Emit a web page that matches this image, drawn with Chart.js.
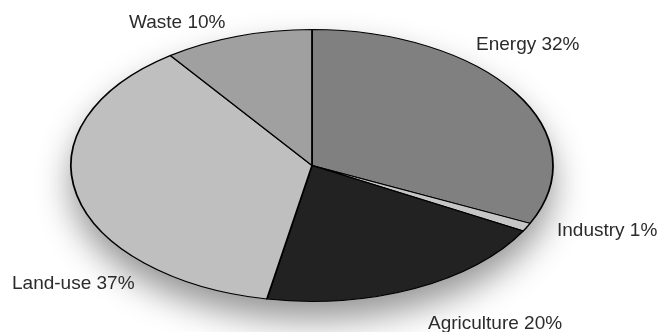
<!DOCTYPE html>
<html>
<head>
<meta charset="utf-8">
<title>Emissions by sector</title>
<script src="https://cdn.jsdelivr.net/npm/chart.js@4.4.1/dist/chart.umd.min.js"></script>
<style>
  html, body { margin: 0; padding: 0; background: #fff; }
  #wrap { width: 657px; height: 332px; }
</style>
</head>
<body>
<div id="wrap"><canvas id="chart" width="657" height="332"></canvas></div>
<script>
// data
const sectors = ["Energy", "Industry", "Agriculture", "Land-use", "Waste"];
const shares = [32, 1, 20, 37, 10];
const sliceColors = ["#808080", "#c6c6c6", "#222222", "#bfbfbf", "#a0a0a0"];

// where each label text starts (left edge, vertical middle)
const labelSpots = [[476, 45], [557, 231], [428, 324], [12, 284], [129, 23]];

// pie is drawn round, then stretched sideways into an ellipse
const stretchX = 1.772;

const ellipsePlugin = {
  id: "ellipse",
  beforeDatasetsDraw(chart) {
    const arc = chart.getDatasetMeta(0).data[0];
    const cx = arc.x, cy = arc.y, r = arc.outerRadius;
    const ctx = chart.ctx;
    ctx.save();
    ctx.translate(cx, cy);
    ctx.scale(stretchX, 1);
    ctx.translate(-cx, -cy);

    // soft drop shadow under the pie
    ctx.save();
    ctx.shadowColor = "rgba(0,0,0,0.42)";
    ctx.shadowBlur = 34;
    ctx.shadowOffsetY = 18;
    ctx.beginPath();
    ctx.arc(cx, cy, r, 0, Math.PI * 2);
    ctx.fillStyle = "#fff";
    ctx.fill();
    ctx.restore();
  },
  afterDatasetsDraw(chart) {
    chart.ctx.restore();
  },
  afterDraw(chart) {
    const ctx = chart.ctx;
    ctx.save();
    ctx.font = '19px "Liberation Sans", Arial, sans-serif';
    ctx.fillStyle = "#2b2b2b";
    ctx.textAlign = "left";
    ctx.textBaseline = "middle";
    for (let i = 0; i < sectors.length; i++) {
      ctx.fillText(sectors[i] + " " + shares[i] + "%", labelSpots[i][0], labelSpots[i][1]);
    }
    ctx.restore();
  }
};

const ctx = document.getElementById("chart").getContext("2d");
new Chart(ctx, {
  type: "pie",
  data: {
    labels: sectors,
    datasets: [{
      data: shares,
      backgroundColor: sliceColors,
      borderColor: "#000",
      borderWidth: 1
    }]
  },
  options: {
    responsive: false,
    animation: false,
    layout: { padding: { top: 29, bottom: 30, left: 0, right: 33 } },
    plugins: {
      legend: { display: false },
      tooltip: { enabled: false }
    }
  },
  plugins: [ellipsePlugin]
});
</script>
</body>
</html>
